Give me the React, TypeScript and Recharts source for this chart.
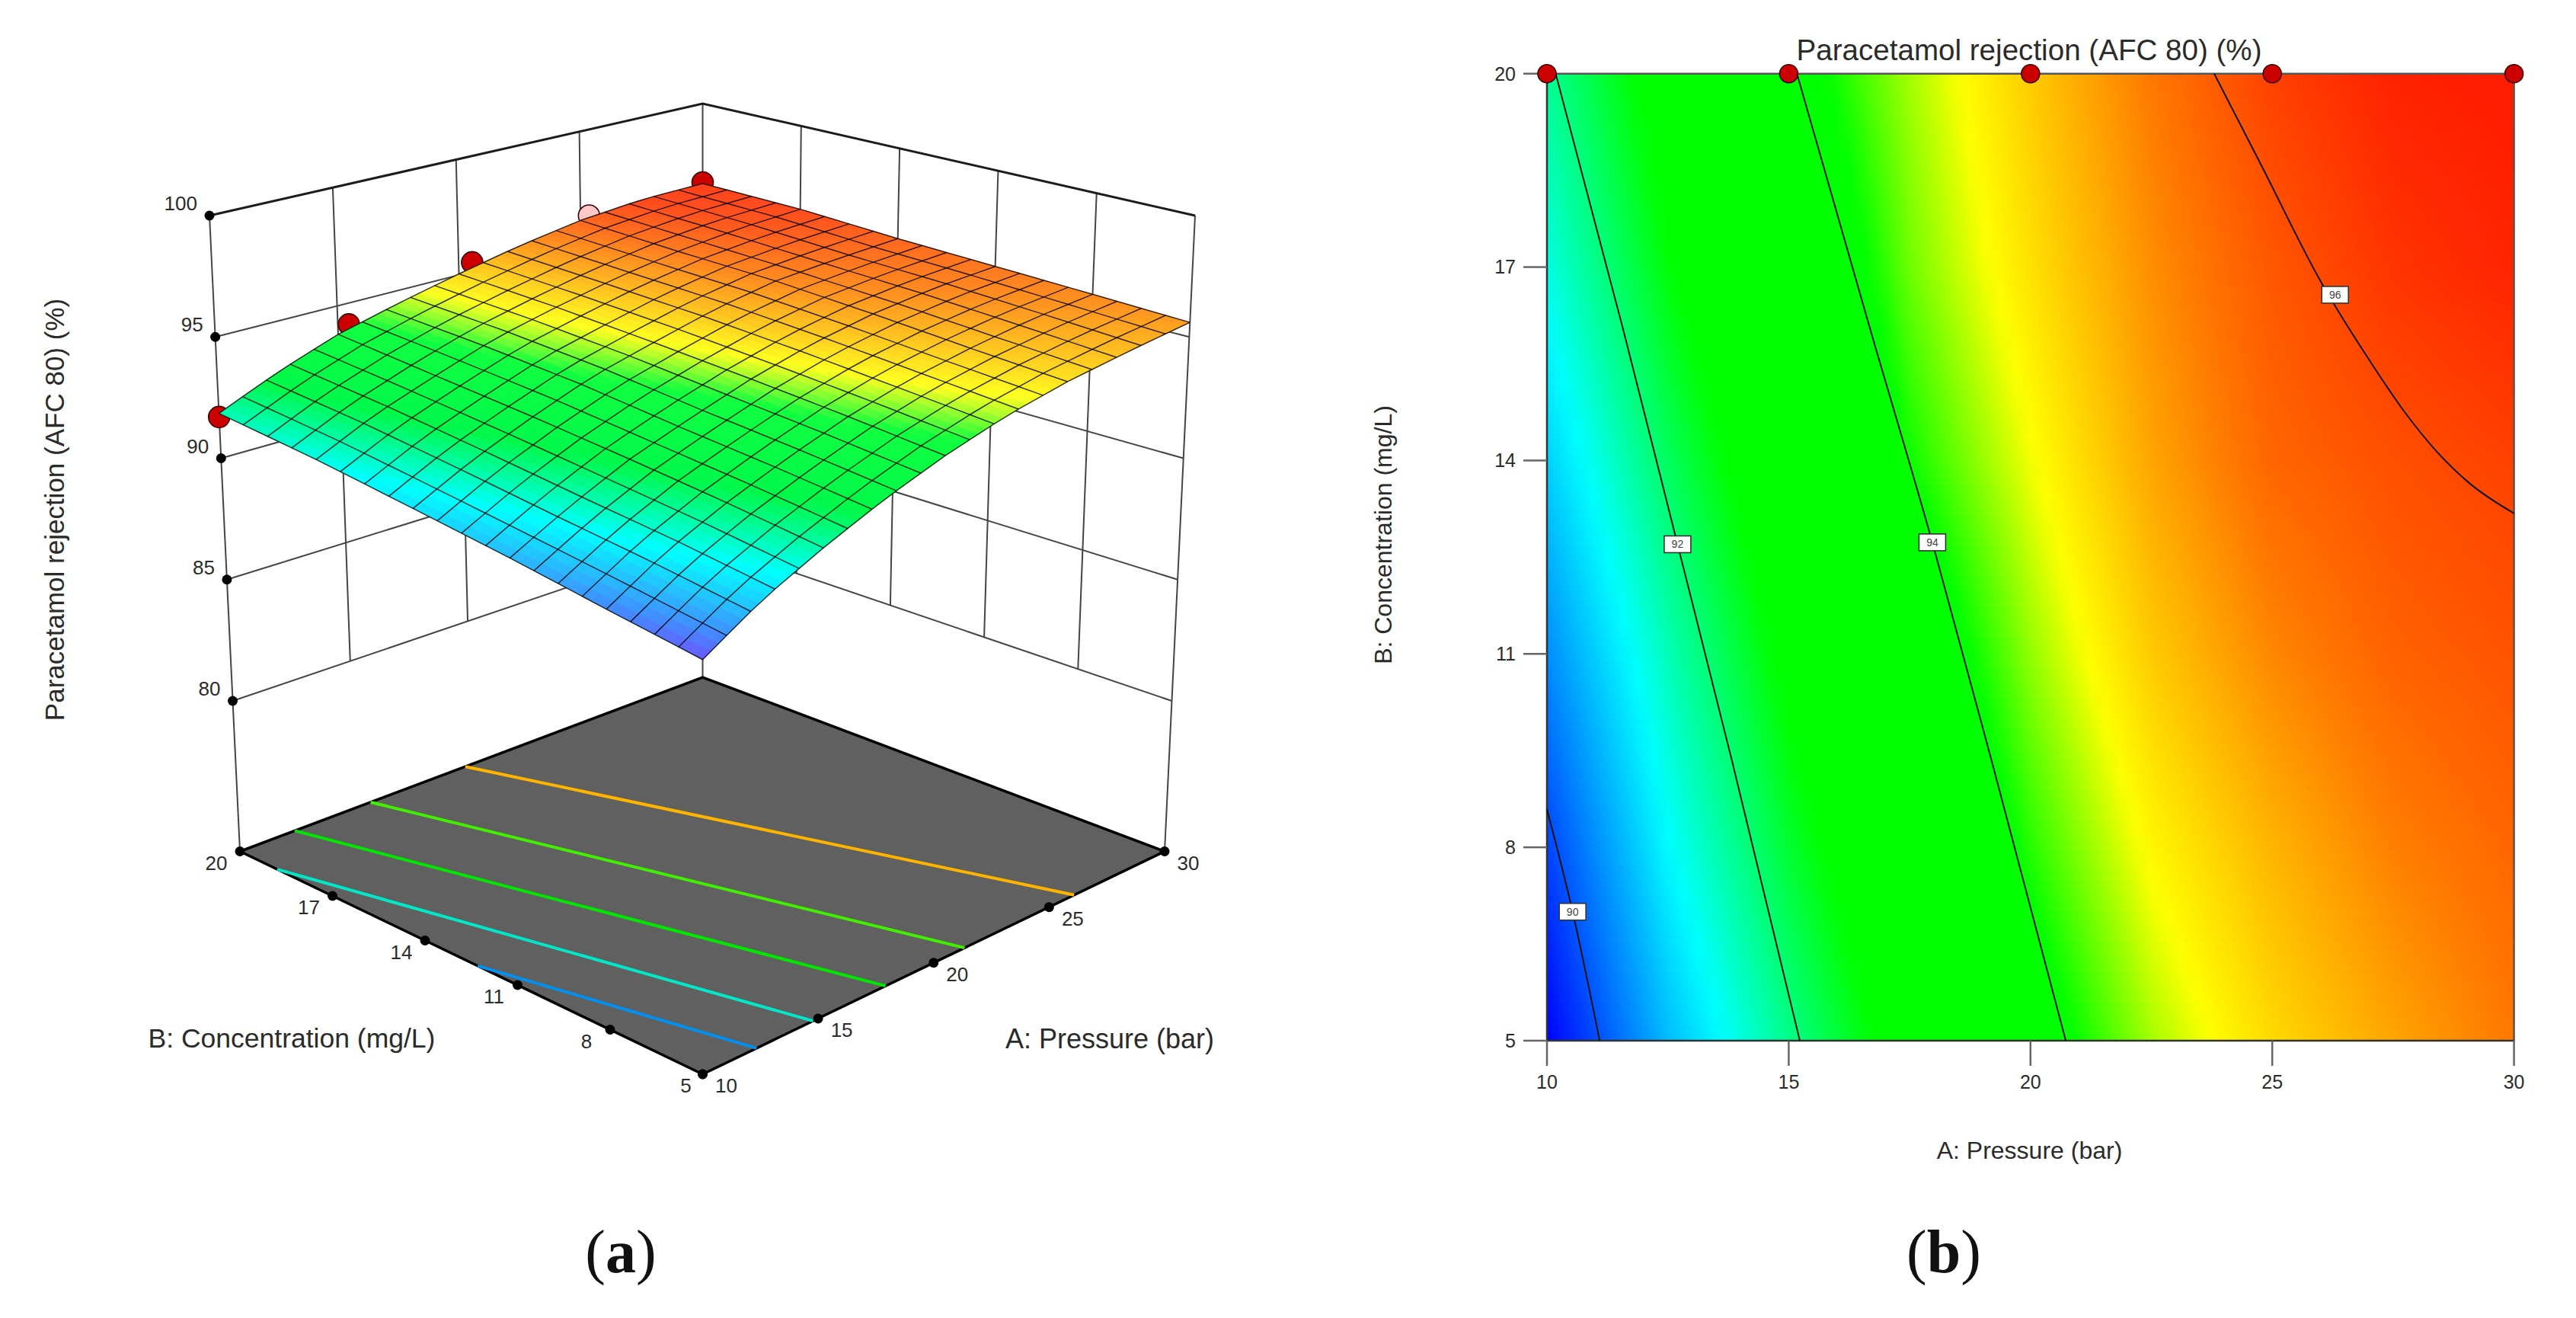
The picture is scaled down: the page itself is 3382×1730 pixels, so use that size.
import { ScatterChart, Scatter, XAxis, YAxis, ReferenceArea, ReferenceLine } from 'recharts';

// axes
const pressureTicks = [10, 15, 20, 25, 30];
const concentrationTicks = [5, 8, 11, 14, 17, 20];
const responseTicks = [80, 85, 90, 95, 100];

// response: one row per concentration, one column per pressure
const gridPressure = [10, 12.5, 15, 17.5, 20, 22.5, 25, 27.5, 30];
const gridConcentration = [5, 8, 11, 14, 17, 20];
const gridResponse = [
  [89.4, 90.8, 91.9, 92.9, 93.75, 94.45, 94.95, 95.3, 95.6],
  [89.9, 91.28, 92.35, 93.27, 94.1, 94.75, 95.2, 95.55, 95.75],
  [90.45, 91.67, 92.75, 93.6, 94.4, 95.05, 95.5, 95.78, 95.9],
  [90.95, 92.13, 93.12, 94.03, 94.67, 95.3, 95.75, 95.93, 96.05],
  [91.45, 92.57, 93.45, 94.3, 94.9, 95.45, 95.87, 96.15, 96.28],
  [91.85, 92.9, 93.8, 94.45, 95.05, 95.6, 96.05, 96.3, 96.35],
];

// colour ramp
const rampLevels = [89.4, 90, 91.3, 92.6, 94, 94.7, 95.6, 96.4];
const contourColors = ['#0000ff', '#0050ff', '#00ffff', '#00ff00', '#00ff00', '#ffff00', '#ff7800', '#ff1500'];
const surfaceColors = ['#6a58ff', '#3f90ff', '#00ffff', '#00f84a', '#10ff40', '#ffff20', '#ff9c20', '#ff3c1c'];

// design points, all at concentration 20
const designPressure = [10, 15, 20, 25, 30];
const designResponse = [91.7, 94.1, 95.4, 96.17, 96.4];
const designFill = ['#cc0000', '#cc0000', '#cc0000', '#ffc8c8', '#cc0000'];
// where those points appear along the wall of panel a
const designWallPressure = [10, 15.45, 20.55, 25.35, 30];

// contour lines of panel b as [pressure, concentration]
const contour90 = [[10, 8.59], [10.53, 7], [11.09, 5]];
const contour92 = [[10.18, 20], [11.57, 16.05], [12.7, 12.7], [13.83, 9.33], [15.23, 5]];
const contour94 = [[15.17, 20], [16.68, 16.05], [17.97, 12.73], [19.2, 9.33], [20.73, 5]];
const contour96 = [[23.8, 20], [24.78, 18.57], [26, 16.78], [27.04, 15.52], [27.72, 14.77], [28.4, 14.14], [29.09, 13.64], [30, 13.18]];
const contourLabels = [
  { a: 10.53, b: 7, text: '90' },
  { a: 12.7, b: 12.7, text: '92' },
  { a: 17.97, b: 12.73, text: '94' },
  { a: 26.3, b: 16.57, text: '96' },
];

// contour lines on the floor of panel a
const floorBlue = [[10, 12.29], [12.33, 5]];
const floorCyan = [[10, 18.79], [14.78, 5]];
const floorGreen = [[12.37, 20], [17.92, 5]];
const floorLime = [[15.65, 20], [21.34, 5]];
const floorOrange = [[19.74, 20], [26.08, 5]];

const FONT = '"Liberation Sans", Arial, sans-serif';
const TEXT = '#2b2b2b';
const Y_TITLE = 'Paracetamol rejection (AFC 80) (%)';

const hexRgb = (h: string) => [1, 3, 5].map(i => parseInt(h.slice(i, i + 2), 16));

function rampColor(v: number, colors: string[]) {
  if (v <= rampLevels[0]) return colors[0];
  for (let i = 1; i < rampLevels.length; i++) {
    if (v <= rampLevels[i]) {
      const t = (v - rampLevels[i - 1]) / (rampLevels[i] - rampLevels[i - 1]);
      const c0 = hexRgb(colors[i - 1]);
      const c1 = hexRgb(colors[i]);
      return `rgb(${c0.map((c, k) => Math.round(c + (c1[k] - c) * t)).join(',')})`;
    }
  }
  return colors[colors.length - 1];
}

function bracket(list: number[], v: number) {
  let i = 0;
  while (i < list.length - 2 && v > list[i + 1]) i++;
  return [i, (v - list[i]) / (list[i + 1] - list[i])];
}

function responseAt(a: number, b: number) {
  const [i, s] = bracket(gridPressure, a);
  const [j, t] = bracket(gridConcentration, b);
  const low = gridResponse[j][i] * (1 - s) + gridResponse[j][i + 1] * s;
  const high = gridResponse[j + 1][i] * (1 - s) + gridResponse[j + 1][i + 1] * s;
  return low * (1 - t) + high * t;
}

// panel a projection: floor and z=100 plane, corners front, right, left, back
const FLOOR_Z = 73.8;
const floorCorners = [[922.5, 1410], [1529, 1117.5], [315, 1117.5], [922.5, 889]];
const topCorners = [[922.5, 496], [1569, 283], [275, 283], [922.5, 136]];

function plane(c: number[][], u: number, v: number) {
  const mix = (k: number) =>
    c[0][k] * (1 - u) * (1 - v) + c[1][k] * u * (1 - v) + c[2][k] * (1 - u) * v + c[3][k] * u * v;
  return [mix(0), mix(1)];
}

function project(a: number, b: number, z: number) {
  const u = (a - 10) / 20;
  const v = (b - 5) / 15;
  const f = plane(floorCorners, u, v);
  const t = plane(topCorners, u, v);
  const h = (z - FLOOR_Z) / (100 - FLOOR_Z);
  return { x: f[0] + (t[0] - f[0]) * h, y: f[1] + (t[1] - f[1]) * h };
}

// mesh cells, back to front, each split so the colour runs smoothly
const MESH = 20;
const SPLIT = 3;
function buildCells() {
  const cells: any[] = [];
  const n = MESH * SPLIT;
  const pos = (i: number, j: number) => {
    const a = 10 + (20 * i) / n;
    const b = 5 + (15 * j) / n;
    return project(a, b, responseAt(a, b));
  };
  for (let i = n - 1; i >= 0; i--) {
    for (let j = n - 1; j >= 0; j--) {
      const corners = [pos(i, j), pos(i + 1, j), pos(i + 1, j + 1), pos(i, j + 1)];
      const x = corners.reduce((s, p) => s + p.x, 0) / 4;
      const y = corners.reduce((s, p) => s + p.y, 0) / 4;
      const a = 10 + (20 * (i + 0.5)) / n;
      const b = 5 + (15 * (j + 0.5)) / n;
      cells.push({ x, y, off: corners.map(p => [p.x - x, p.y - y]), fill: rampColor(responseAt(a, b), surfaceColors) });
    }
  }
  return cells;
}
const surfaceCells = buildCells();

const meshSteps = Array.from({ length: MESH + 1 }, (_, i) => i);
const meshLines = [
  ...meshSteps.map(i => meshSteps.map(j => {
    const a = 10 + i;
    const b = 5 + (15 * j) / MESH;
    return project(a, b, responseAt(a, b));
  })),
  ...meshSteps.map(j => meshSteps.map(i => {
    const a = 10 + i;
    const b = 5 + (15 * j) / MESH;
    return project(a, b, responseAt(a, b));
  })),
];

// walls
const wallLines = [
  ...responseTicks.slice(0, -1).map(z => [project(10, 20, z), project(30, 20, z), project(30, 5, z)]),
  ...pressureTicks.slice(1, -1).map(a => [project(a, 20, 80), project(a, 20, 100)]),
  ...concentrationTicks.slice(1, -1).map(b => [project(30, b, 80), project(30, b, 100)]),
  [project(10, 20, FLOOR_Z), project(10, 20, 100)],
  [project(30, 20, FLOOR_Z), project(30, 20, 100)],
  [project(30, 5, FLOOR_Z), project(30, 5, 100)],
];
const topLine = [project(10, 20, 100), project(30, 20, 100), project(30, 5, 100)];
const floorEdge = [project(10, 5, FLOOR_Z), project(30, 5, FLOOR_Z), project(30, 20, FLOOR_Z), project(10, 20, FLOOR_Z), project(10, 5, FLOOR_Z)];

const tickDots = [
  ...responseTicks.map(z => project(10, 20, z)),
  ...concentrationTicks.map(b => project(10, b, FLOOR_Z)),
  ...pressureTicks.map(a => project(a, 5, FLOOR_Z)),
];

const tickTexts = [
  ...responseTicks.map(z => {
    const p = project(10, 20, z);
    return { x: p.x - 16, y: p.y - 16, text: String(z), anchor: 'end' };
  }),
  ...concentrationTicks.map(b => {
    const p = project(10, b, FLOOR_Z);
    return { x: p.x - (b === 5 ? 22 : 31), y: p.y + 15, text: String(b), anchor: 'middle' };
  }),
  ...pressureTicks.map(a => {
    const p = project(a, 5, FLOOR_Z);
    return { x: p.x + 31, y: p.y + 15, text: String(a), anchor: 'middle' };
  }),
];

const design3d = designWallPressure.map((a, i) => ({ ...project(a, 20, designResponse[i]), fill: designFill[i] }));

const floorLines = [
  { pts: floorBlue, color: '#0090f0' },
  { pts: floorCyan, color: '#00e8c8' },
  { pts: floorGreen, color: '#00e800' },
  { pts: floorLime, color: '#40f000' },
  { pts: floorOrange, color: '#ffb400' },
].map(l => ({ color: l.color, pts: l.pts.map(p => project(p[0], p[1], FLOOR_Z)) }));

// panel b colour strips, one gradient per strip
const STRIPS = 127;
const STOPS = 64;
const stripRows = Array.from({ length: STRIPS }, (_, i) => {
  const b0 = 5 + (15 * i) / STRIPS;
  const b1 = 5 + (15 * (i + 1)) / STRIPS;
  return { id: `strip-${i}`, b0, b1, b: (b0 + b1) / 2 };
});
const stripStops = Array.from({ length: STOPS + 1 }, (_, i) => i / STOPS);

const NoMark = () => null;
const CellMark = (p: any) => (
  <polygon
    points={p.payload.off.map((o: number[]) => `${p.cx + o[0]},${p.cy + o[1]}`).join(' ')}
    fill={p.payload.fill}
    stroke={p.payload.fill}
    strokeWidth={0.8}
  />
);
const TextMark = (p: any) => (
  <text x={p.cx} y={p.cy} textAnchor={p.payload.anchor} dominantBaseline="central" fontFamily={FONT} fontSize={26} fill={TEXT}>
    {p.payload.text}
  </text>
);
const DotMark = (r: number) => (p: any) => (
  <circle cx={p.cx} cy={p.cy} r={r} fill={p.payload.fill} stroke="#3a0000" strokeWidth={1.6} />
);
const TickDot = (p: any) => <circle cx={p.cx} cy={p.cy} r={6.5} fill="#000" />;
const BoxMark = (p: any) => (
  <g>
    <rect x={p.cx - 17.5} y={p.cy - 11} width={35} height={22} fill="#fff" stroke="#333" strokeWidth={1.6} />
    <text x={p.cx} y={p.cy} textAnchor="middle" dominantBaseline="central" fontFamily={FONT} fontSize={14} fill="#444">
      {p.payload.text}
    </text>
  </g>
);

function polyline(pts: any[], line: any, key: string, curve = 'linear') {
  return (
    <Scatter
      key={key}
      data={pts}
      line={line}
      lineType="joint"
      lineJointType={curve as any}
      shape={NoMark}
      isAnimationActive={false}
    />
  );
}

function SurfacePanel() {
  return (
    <ScatterChart width={1800} height={1730} margin={{ top: 0, right: 0, bottom: 0, left: 0 }}>
      <XAxis type="number" dataKey="x" domain={[0, 1800]} hide />
      <YAxis type="number" dataKey="y" domain={[0, 1730]} reversed hide />
      {wallLines.map((l, i) => polyline(l, { stroke: '#454545', strokeWidth: 2 }, `wall-${i}`))}
      {polyline(topLine, { stroke: '#1c1c1c', strokeWidth: 3 }, 'top')}
      {polyline(floorEdge, { stroke: '#000', strokeWidth: 3.5, fill: '#606060' }, 'floor')}
      {floorLines.map((l, i) => polyline(l.pts, { stroke: l.color, strokeWidth: 4 }, `floor-${i}`))}
      <Scatter data={tickDots} shape={TickDot} isAnimationActive={false} />
      <Scatter data={tickTexts} shape={TextMark} isAnimationActive={false} />
      <Scatter data={design3d} shape={DotMark(14)} isAnimationActive={false} />
      <Scatter data={surfaceCells} shape={CellMark} isAnimationActive={false} />
      {meshLines.map((l, i) => polyline(l, { stroke: '#000', strokeWidth: 1.5, strokeOpacity: 0.78 }, `mesh-${i}`))}
      <text x={71} y={669} transform="rotate(-90 71 669)" textAnchor="middle" dominantBaseline="central" fontFamily={FONT} fontSize={35} fill={TEXT}>
        {Y_TITLE}
      </text>
      <text x={383} y={1363} textAnchor="middle" dominantBaseline="central" fontFamily={FONT} fontSize={35.5} fill={TEXT}>
        B: Concentration (mg/L)
      </text>
      <text x={1457} y={1363} textAnchor="middle" dominantBaseline="central" fontFamily={FONT} fontSize={36} fill={TEXT}>
        A: Pressure (bar)
      </text>
      <text x={815} y={1643} textAnchor="middle" dominantBaseline="central" fontFamily='"Liberation Serif", serif' fontSize={80} fill="#111">
        (<tspan fontWeight="bold">a</tspan>)
      </text>
    </ScatterChart>
  );
}

function ContourPanel() {
  const asPoints = (c: number[][]) => [...c].sort((p, q) => p[0] - q[0]).map(p => ({ a: p[0], b: p[1] }));
  const border = { stroke: '#555', strokeWidth: 2.5 };
  return (
    <ScatterChart width={3382} height={1730} margin={{ top: 96.7, right: 81.4, bottom: 294, left: 1931 }}>
      <defs>
        {stripRows.map(r => (
          <linearGradient key={r.id} id={r.id} x1="0" y1="0" x2="1" y2="0">
            {stripStops.map(f => (
              <stop key={f} offset={f} stopColor={rampColor(responseAt(10 + 20 * f, r.b), contourColors)} />
            ))}
          </linearGradient>
        ))}
      </defs>
      <XAxis
        type="number"
        dataKey="a"
        domain={[10, 30]}
        ticks={pressureTicks}
        height={70}
        tickSize={33}
        tickMargin={12}
        tick={{ fontSize: 25, fontFamily: FONT, fill: TEXT }}
        tickLine={{ stroke: '#666', strokeWidth: 2.5 }}
        axisLine={{ stroke: '#333', strokeWidth: 2.5 }}
      />
      <YAxis
        type="number"
        dataKey="b"
        domain={[5, 20]}
        ticks={concentrationTicks}
        width={100}
        tickSize={31}
        tickMargin={10}
        tick={{ fontSize: 25, fontFamily: FONT, fill: TEXT }}
        tickLine={{ stroke: '#666', strokeWidth: 2.5 }}
        axisLine={{ stroke: '#333', strokeWidth: 2.5 }}
      />
      {stripRows.map((r, i) => (
        <ReferenceArea
          key={r.id}
          x1={10}
          x2={30}
          y1={r.b0}
          y2={i === STRIPS - 1 ? r.b1 : stripRows[i + 1].b1}
          fill={`url(#${r.id})`}
          fillOpacity={1}
          stroke="none"
        />
      ))}
      <ReferenceLine x={30} {...border} />
      <ReferenceLine y={20} {...border} />
      {polyline(asPoints(contour90), { stroke: '#111', strokeWidth: 2 }, 'c90', 'monotoneX')}
      {polyline(asPoints(contour92), { stroke: '#111', strokeWidth: 2 }, 'c92', 'monotoneX')}
      {polyline(asPoints(contour94), { stroke: '#111', strokeWidth: 2 }, 'c94', 'monotoneX')}
      {polyline(asPoints(contour96), { stroke: '#111', strokeWidth: 2 }, 'c96', 'monotoneX')}
      <Scatter data={contourLabels} shape={BoxMark} isAnimationActive={false} />
      <Scatter
        data={designPressure.map(a => ({ a, b: 20, fill: '#cc0000' }))}
        shape={DotMark(12)}
        isAnimationActive={false}
      />
      <text x={2664} y={65} textAnchor="middle" dominantBaseline="central" fontFamily={FONT} fontSize={38.6} fill={TEXT}>
        {Y_TITLE}
      </text>
      <text x={2664.5} y={1510} textAnchor="middle" dominantBaseline="central" fontFamily={FONT} fontSize={32} fill={TEXT}>
        A: Pressure (bar)
      </text>
      <text x={1816} y={702} transform="rotate(-90 1816 702)" textAnchor="middle" dominantBaseline="central" fontFamily={FONT} fontSize={32} fill={TEXT}>
        B: Concentration (mg/L)
      </text>
      <text x={2552} y={1643} textAnchor="middle" dominantBaseline="central" fontFamily='"Liberation Serif", serif' fontSize={80} fill="#111">
        (<tspan fontWeight="bold">b</tspan>)
      </text>
    </ScatterChart>
  );
}

export default function App() {
  return (
    <div style={{ position: 'absolute', left: 0, top: 0, width: 3382, height: 1730, background: '#fff', overflow: 'hidden' }}>
      <div style={{ position: 'absolute', left: 0, top: 0 }}>
        <SurfacePanel />
      </div>
      <div style={{ position: 'absolute', left: 0, top: 0 }}>
        <ContourPanel />
      </div>
    </div>
  );
}
